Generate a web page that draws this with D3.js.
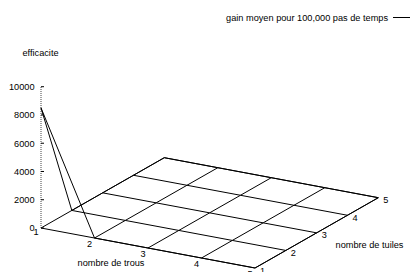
<!DOCTYPE html>
<html>
<head>
<meta charset="utf-8">
<script src="https://cdn.jsdelivr.net/npm/d3@7"></script>
<style>
  body { margin: 0; background: #fff; }
  text { font-family: "Liberation Sans", Arial, sans-serif; font-size: 9.2px; fill: #000; }
</style>
</head>
<body>
<svg id="chart" width="410" height="272"></svg>
<script>
// nombre de trous (x), nombre de tuiles (y)
var trous = [1, 2, 3, 4, 5];
var tuiles = [1, 2, 3, 4, 5];
// gain moyen, one row per nombre de trous
var gain = [
    [8500, 0, 0, 0, 0],
    [0, 0, 0, 0, 0],
    [0, 0, 0, 0, 0],
    [0, 0, 0, 0, 0],
    [0, 0, 0, 0, 0]
];
var zTicks = [0, 2000, 4000, 6000, 8000, 10000];

var svg = d3.select('#chart');

/* scales for the oblique projection */
var xs = d3.scaleLinear().domain([1, 5]).range([0, 1]);
var ys = d3.scaleLinear().domain([1, 5]).range([0, 1]);
var zs = d3.scaleLinear().domain([0, 10000]).range([0, 141.3]);

var origin = [41, 228];
var project = function(t, u, z) {
    return [
        origin[0] + 214 * xs(t) + 123.3 * ys(u),
        origin[1] + 40 * xs(t) - 70.3 * ys(u) - zs(z)
    ];
};
var line = d3.line();

/* base border */
var base = [[1, 1], [5, 1], [5, 5], [1, 5], [1, 1]].map(function(p) {
    return project(p[0], p[1], 0);
});
svg.append('path')
    .attr('d', line(base))
    .attr('fill', 'none')
    .attr('stroke', '#000')
    .attr('stroke-width', 1);

/* z axis */
var zTop = project(1, 1, 10000);
svg.append('line')
    .attr('x1', origin[0]).attr('y1', origin[1])
    .attr('x2', zTop[0]).attr('y2', zTop[1])
    .attr('stroke', '#444')
    .attr('stroke-dasharray', '1,1');

zTicks.forEach(function(v) {
    var p = project(1, 1, v);
    svg.append('line')
        .attr('x1', p[0]).attr('y1', p[1])
        .attr('x2', p[0] + 3).attr('y2', p[1])
        .attr('stroke', '#000');
    svg.append('text')
        .attr('x', p[0] - 6.5)
        .attr('y', p[1] + 3.3)
        .attr('text-anchor', 'end')
        .text(v);
});

/* surface mesh */
trous.forEach(function(t, i) {
    var pts = tuiles.map(function(u, j) { return project(t, u, gain[i][j]); });
    svg.append('path').attr('d', line(pts))
        .attr('fill', 'none').attr('stroke', '#000').attr('stroke-width', 1);
});
tuiles.forEach(function(u, j) {
    var pts = trous.map(function(t, i) { return project(t, u, gain[i][j]); });
    svg.append('path').attr('d', line(pts))
        .attr('fill', 'none').attr('stroke', '#000').attr('stroke-width', 1);
});

/* tick labels */
trous.forEach(function(t) {
    var p = project(t, 1, 0);
    svg.append('text')
        .attr('x', p[0] - 5)
        .attr('y', p[1] + (t === 1 ? 7 : 8.5))
        .attr('text-anchor', 'middle')
        .text(t);
});
tuiles.forEach(function(u) {
    var p = project(5, u, 0);
    svg.append('text')
        .attr('x', p[0] + 5)
        .attr('y', p[1] + 5.5)
        .text(u);
});

/* titles */
svg.append('text').attr('x', 40.5).attr('y', 56)
    .attr('text-anchor', 'middle').text('efficacite');
svg.append('text').attr('x', 111).attr('y', 266)
    .attr('text-anchor', 'middle').text('nombre de trous');
svg.append('text').attr('x', 369.5).attr('y', 247.5)
    .attr('text-anchor', 'middle').text('nombre de tuiles');

/* key */
svg.append('text').attr('x', 388).attr('y', 20.5)
    .attr('text-anchor', 'end').text('gain moyen pour 100,000 pas de temps');
svg.append('line')
    .attr('x1', 393).attr('y1', 17.5)
    .attr('x2', 410).attr('y2', 17.5)
    .attr('stroke', '#000');
</script>
</body>
</html>
